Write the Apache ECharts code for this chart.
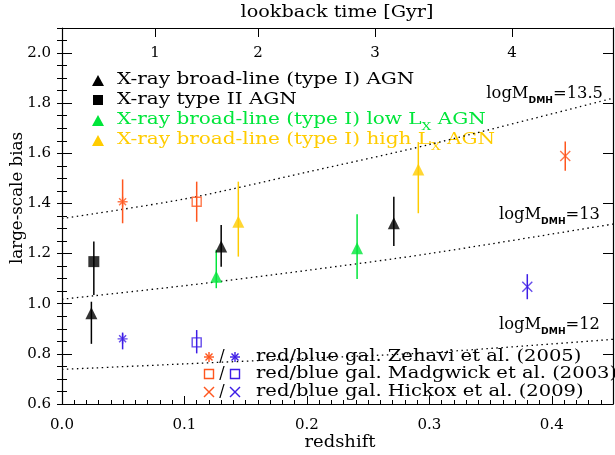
<!DOCTYPE html>
<html>
<head>
<meta charset="utf-8">
<script src="https://cdn.jsdelivr.net/npm/echarts@6.0.0/dist/echarts.min.js"></script>
<style>
  html, body { margin: 0; padding: 0; background: #fff; }
  #chart { width: 615px; height: 455px; }
</style>
</head>
<body>
<div id="chart"></div>
<script>
const FONT = '"DejaVu Serif", serif';
const ORANGE = '#ff561e';
const BLUE = '#3d1de6';
const GREEN = '#00e63a';
const GOLD = '#ffcc00';

// X-ray broad-line (type I) AGN
const blZ = [0.024, 0.130, 0.271];
const blBias = [0.962, 1.228, 1.321];
const blLo = [0.840, 1.148, 1.230];
const blHi = [1.008, 1.314, 1.427];

// X-ray type II AGN
const t2Z = [0.026];
const t2Bias = [1.168];
const t2Lo = [1.035];
const t2Hi = [1.248];

// low Lx broad-line AGN
const lowZ = [0.126, 0.241];
const lowBias = [1.108, 1.221];
const lowLo = [1.062, 1.099];
const lowHi = [1.215, 1.357];

// high Lx broad-line AGN
const highZ = [0.144, 0.291];
const highBias = [1.327, 1.536];
const highLo = [1.188, 1.361];
const highHi = [1.487, 1.645];

// galaxies: Zehavi (2005), Madgwick (2003), Hickox (2009)
const zehRedZ = [0.0495], zehRed = [1.407], zehRedLo = [1.321], zehRedHi = [1.496];
const zehBlueZ = [0.0495], zehBlue = [0.860], zehBlueLo = [0.818], zehBlueHi = [0.885];
const madRedZ = [0.110], madRed = [1.407], madRedLo = [1.327], madRedHi = [1.487];
const madBlueZ = [0.110], madBlue = [0.846], madBlueLo = [0.802], madBlueHi = [0.895];
const hicRedZ = [0.411], hicRed = [1.589], hicRedLo = [1.531], hicRedHi = [1.647];
const hicBlueZ = [0.380], hicBlue = [1.068], hicBlueLo = [1.018], hicBlueHi = [1.118];

// bias of dark matter halos vs redshift
const haloZ = [0, 0.1, 0.2, 0.3, 0.45];
const halo135 = [1.340, 1.418, 1.525, 1.635, 1.820];
const halo13 = [1.018, 1.072, 1.133, 1.200, 1.318];
const halo12 = [0.738, 0.760, 0.782, 0.805, 0.858];

// axis ticks
const xTicks = [0, 0.1, 0.2, 0.3, 0.4];
const yTicks = [0.6, 0.8, 1.0, 1.2, 1.4, 1.6, 1.8, 2.0];
const lookbackGyr = ['1', '2', '3', '4'];
const lookbackZ = [0.076, 0.160, 0.2556, 0.3675];

// minor tick positions: every 0.01 in z, every 0.05 in bias
const xMinorTicks = [];
for (let i = 0; i <= 45; i++) xMinorTicks.push(i / 100);
const yMinorTicks = [];
for (let i = 12; i <= 42; i++) yMinorTicks.push(i / 20);

const ASTERISK = 'path://M5,0L5,10M0,5L10,5M1.5,1.5L8.5,8.5M1.5,8.5L8.5,1.5';
const CROSS = 'path://M0,0L10,10M0,10L10,0';

function errorBars(color, zs, lo, hi) {
  return {
    type: 'custom',
    silent: true,
    z: 2,
    encode: { x: 0, y: [1, 2] },
    data: zs.map((z, i) => [z, lo[i], hi[i]]),
    renderItem: (params, api) => {
      const top = api.coord([api.value(0), api.value(2)]);
      const bot = api.coord([api.value(0), api.value(1)]);
      return {
        type: 'line',
        shape: { x1: top[0], y1: top[1], x2: bot[0], y2: bot[1] },
        style: { stroke: color, lineWidth: 1.5 },
      };
    },
  };
}

function markers(zs, bias, symbol, size, color, hollow) {
  return {
    type: 'scatter',
    silent: true,
    z: 3,
    symbol: symbol,
    symbolSize: size,
    data: zs.map((z, i) => [z, bias[i]]),
    itemStyle: hollow
      ? { color: 'rgba(0,0,0,0)', borderColor: color, borderWidth: 1.4 }
      : { color: color },
  };
}

function haloLine(values) {
  return {
    type: 'line',
    silent: true,
    smooth: 0.3,
    symbol: 'none',
    z: 1,
    data: haloZ.map((z, i) => [z, values[i]]),
    lineStyle: { color: '#000', width: 1.3, type: [1.5, 3.5] },
  };
}

// legend pieces, drawn as graphics
function tri(cx, cy, color) {
  return { type: 'polygon', shape: { points: [[cx - 6, cy + 5], [cx + 6, cy + 5], [cx, cy - 6]] }, style: { fill: color } };
}
function seg(x1, y1, x2, y2, color) {
  return { type: 'line', shape: { x1, y1, x2, y2 }, style: { stroke: color, lineWidth: 1.4 } };
}
function star(cx, cy, color) {
  return { type: 'group', children: [
    seg(cx, cy - 5, cx, cy + 5, color), seg(cx - 5, cy, cx + 5, cy, color),
    seg(cx - 3.5, cy - 3.5, cx + 3.5, cy + 3.5, color), seg(cx - 3.5, cy + 3.5, cx + 3.5, cy - 3.5, color),
  ] };
}
function cross(cx, cy, color) {
  return { type: 'group', children: [
    seg(cx - 5, cy - 5, cx + 5, cy + 5, color), seg(cx - 5, cy + 5, cx + 5, cy - 5, color),
  ] };
}
function box(cx, cy, color) {
  return { type: 'rect', shape: { x: cx - 4.5, y: cy - 4.5, width: 9, height: 9 }, style: { fill: 'none', stroke: color, lineWidth: 1.4 } };
}
function label(x, y, text, color, align, stretch, size) {
  const fs = size || 16;
  return {
    type: 'text', x: x, y: y, scaleX: stretch || 1,
    style: {
      text: text, fill: color, font: fs + 'px ' + FONT,
      align: align || 'left', verticalAlign: 'middle',
      rich: {
        t: { fill: color, fontSize: fs, fontFamily: FONT },
        s: { fill: color, fontSize: 11, fontFamily: FONT, padding: [14, 0, 0, 0] },
        d: { fill: color, fontSize: 9, fontWeight: 'bold', fontFamily: 'DejaVu Sans', padding: [14, 0, 0, 0] },
      },
    },
  };
}

const yTitle = label(18, 198, 'large-scale bias', '#000', 'center', 1.04, 16);
yTitle.rotation = Math.PI / 2;

const graphics = [
  tri(98, 81, '#000'),
  label(117, 80, 'X-ray broad-line (type I) AGN', '#000', 'left', 1.25),
  { type: 'rect', shape: { x: 93, y: 95, width: 10, height: 10 }, style: { fill: '#000' } },
  label(117, 100, 'X-ray type II AGN', '#000', 'left', 1.25),
  tri(98, 121, GREEN),
  label(117, 120, '{t|X-ray broad-line (type I) low L}{s|X}{t| AGN}', GREEN, 'left', 1.25),
  tri(98, 141, GOLD),
  label(117, 140, '{t|X-ray broad-line (type I) high L}{s|X}{t| AGN}', GOLD, 'left', 1.25),

  star(209, 357, ORANGE),
  label(222, 357, '/', '#000', 'center'),
  star(235, 357, BLUE),
  label(256, 357, 'red/blue gal. Zehavi et al. (2005)', '#000', 'left', 1.22),
  box(209, 374, ORANGE),
  label(222, 374, '/', '#000', 'center'),
  box(235, 374, BLUE),
  label(256, 374, 'red/blue gal. Madgwick et al. (2003)', '#000', 'left', 1.22),
  cross(209, 392, ORANGE),
  label(222, 392, '/', '#000', 'center'),
  cross(235, 392, BLUE),
  label(256, 392, 'red/blue gal. Hickox et al. (2009)', '#000', 'left', 1.22),

  label(603, 94, '{t|logM}{d|DMH}{t|=13.5}', '#000', 'right', 1.02),
  label(600, 215, '{t|logM}{d|DMH}{t|=13}', '#000', 'right', 1.02),
  label(600, 325, '{t|logM}{d|DMH}{t|=12}', '#000', 'right', 1.02),

  label(337, 13, 'lookback time [Gyr]', '#000', 'center', 1.2),
  label(340, 443, 'redshift', '#000', 'center', 1.12),
  yTitle,
];

const axisLine = { show: true, onZero: false, lineStyle: { color: '#000', width: 1.2 } };
const tickStyle = { color: '#000', width: 1 };

function ticks(values, length) {
  return { show: true, inside: true, length: length, lineStyle: tickStyle, customValues: values };
}

const xMain = {
  type: 'value', position: 'bottom', min: 0, max: 0.45,
  axisLine: axisLine,
  axisTick: ticks(xTicks, 8),
  axisLabel: { margin: 14, color: '#000', fontFamily: FONT, fontSize: 15,
    customValues: xTicks, formatter: (v) => v.toFixed(1) },
  splitLine: { show: false },
};
const xTop = {
  type: 'value', position: 'top', min: 0, max: 0.45,
  axisLine: axisLine,
  axisTick: ticks(lookbackZ, 9),
  axisLabel: { inside: true, margin: 18, color: '#000', fontFamily: FONT, fontSize: 15,
    customValues: lookbackZ,
    formatter: (v) => {
      const i = lookbackZ.findIndex((z) => Math.abs(z - v) < 1e-6);
      return i >= 0 ? lookbackGyr[i] : '';
    } },
  splitLine: { show: false },
};
const xMinor = {
  type: 'value', position: 'bottom', min: 0, max: 0.45,
  axisLine: { show: false },
  axisTick: ticks(xMinorTicks, 4),
  axisLabel: { show: false }, splitLine: { show: false },
};
const yMain = {
  type: 'value', position: 'left', min: 0.6, max: 2.1,
  axisLine: axisLine,
  axisTick: ticks(yTicks, 10),
  axisLabel: { margin: 11, color: '#000', fontFamily: FONT, fontSize: 15,
    customValues: yTicks, formatter: (v) => v.toFixed(1) },
  splitLine: { show: false },
};
const yRight = {
  type: 'value', position: 'right', min: 0.6, max: 2.1,
  axisLine: axisLine,
  axisTick: ticks(yTicks, 10),
  axisLabel: { show: false }, splitLine: { show: false },
};
const yMinorL = {
  type: 'value', position: 'left', min: 0.6, max: 2.1,
  axisLine: { show: false },
  axisTick: ticks(yMinorTicks, 5),
  axisLabel: { show: false }, splitLine: { show: false },
};
const yMinorR = Object.assign({}, yMinorL, { position: 'right' });

const chart = echarts.init(document.getElementById('chart'));

const option = {
  animation: false,
  backgroundColor: '#fff',
  grid: { left: 62, right: 2, top: 28, bottom: 51 },
  xAxis: [xMain, xTop, xMinor],
  yAxis: [yMain, yRight, yMinorL, yMinorR],
  series: [
    haloLine(halo135),
    haloLine(halo13),
    haloLine(halo12),

    errorBars('#000', blZ, blLo, blHi),
    errorBars('#000', t2Z, t2Lo, t2Hi),
    errorBars(GREEN, lowZ, lowLo, lowHi),
    errorBars(GOLD, highZ, highLo, highHi),
    errorBars(ORANGE, zehRedZ, zehRedLo, zehRedHi),
    errorBars(BLUE, zehBlueZ, zehBlueLo, zehBlueHi),
    errorBars(ORANGE, madRedZ, madRedLo, madRedHi),
    errorBars(BLUE, madBlueZ, madBlueLo, madBlueHi),
    errorBars(ORANGE, hicRedZ, hicRedLo, hicRedHi),
    errorBars(BLUE, hicBlueZ, hicBlueLo, hicBlueHi),

    markers(blZ, blBias, 'triangle', [12, 12], '#000', false),
    markers(t2Z, t2Bias, 'rect', [11, 11], '#000', false),
    markers(lowZ, lowBias, 'triangle', [12, 12], GREEN, false),
    markers(highZ, highBias, 'triangle', [12, 12], GOLD, false),
    markers(zehRedZ, zehRed, ASTERISK, [10, 10], ORANGE, true),
    markers(zehBlueZ, zehBlue, ASTERISK, [10, 10], BLUE, true),
    markers(madRedZ, madRed, 'rect', [9, 9], ORANGE, true),
    markers(madBlueZ, madBlue, 'rect', [9, 9], BLUE, true),
    markers(hicRedZ, hicRed, CROSS, [10, 10], ORANGE, true),
    markers(hicBlueZ, hicBlue, CROSS, [10, 10], BLUE, true),
  ],
  graphic: graphics,
};

chart.setOption(option);
</script>
</body>
</html>
